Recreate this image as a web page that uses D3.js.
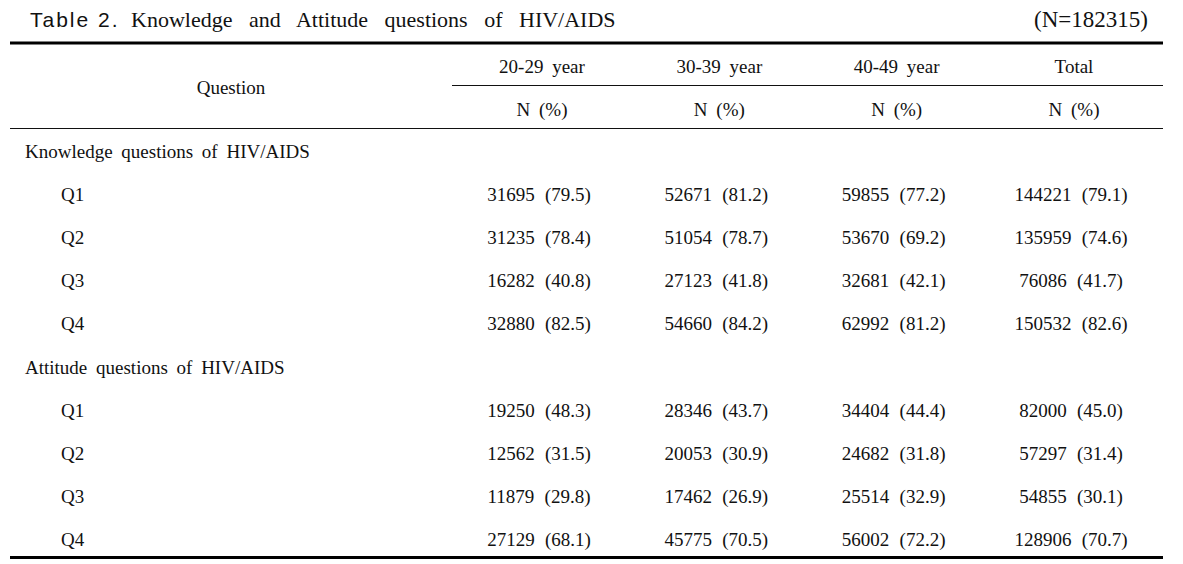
<!DOCTYPE html>
<html><head><meta charset="utf-8">
<script src="https://cdn.jsdelivr.net/npm/d3@7"></script>
<style>
html,body{margin:0;padding:0;background:#fff;}
svg text{font-family:"Liberation Serif","Times New Roman",serif;fill:#111;}
</style></head>
<body><svg id="c" width="1183" height="564"></svg>
<script>
const titleLabel = "Table 2.";
const titleText = "Knowledge and Attitude questions of HIV/AIDS";
const sampleNote = "(N=182315)";
const columns = ["20-29 year", "30-39 year", "40-49 year", "Total"];
const subHeader = "N (%)";
const sections = ["Knowledge questions of HIV/AIDS", "Attitude questions of HIV/AIDS"];
const questions = ["Q1", "Q2", "Q3", "Q4"];
const knowledgeN = [[31695, 52671, 59855, 144221],[31235, 51054, 53670, 135959],[16282, 27123, 32681, 76086],[32880, 54660, 62992, 150532]];
const knowledgePct = [["79.5","81.2","77.2","79.1"],["78.4","78.7","69.2","74.6"],["40.8","41.8","42.1","41.7"],["82.5","84.2","81.2","82.6"]];
const attitudeN = [[19250, 28346, 34404, 82000],[12562, 20053, 24682, 57297],[11879, 17462, 25514, 54855],[27129, 45775, 56002, 128906]];
const attitudePct = [["48.3","43.7","44.4","45.0"],["31.5","30.9","31.8","31.4"],["29.8","26.9","32.9","30.1"],["68.1","70.5","72.2","70.7"]];

const svg = d3.select("#c");
const L = 10, R = 1163;
const fs = 19;

const rows = [];
[[knowledgeN, knowledgePct],[attitudeN, attitudePct]].forEach((s, si) => {
  rows.push({type:"section", label: sections[si]});
  questions.forEach((q, qi) => rows.push({type:"q", label:q, n:s[0][qi], p:s[1][qi]}));
});

const y = d3.scalePoint().domain(d3.range(rows.length)).range([158, 546]);
const x = d3.scalePoint().domain(columns).range([539, 1071]);

// title
svg.append("text").attr("x", 30).attr("y", 27)
  .style("font-family","'Liberation Sans',Arial,sans-serif").style("font-size","21px").style("letter-spacing","2px")
  .text(titleLabel);
svg.append("text").attr("x", 131).attr("y", 27).style("font-size", "22px").style("word-spacing","11px").text(titleText);
svg.append("text").attr("x", 1148).attr("y", 27).attr("text-anchor","end").style("font-size","23px").text(sampleNote);

// rules
svg.append("line").attr("x1",L).attr("x2",R).attr("y1",43).attr("y2",43).attr("stroke","#000").attr("stroke-width",3);
svg.append("line").attr("x1",452).attr("x2",R).attr("y1",85.5).attr("y2",85.5).attr("stroke","#111").attr("stroke-width",1.2);
svg.append("line").attr("x1",L).attr("x2",R).attr("y1",128.5).attr("y2",128.5).attr("stroke","#111").attr("stroke-width",1.2);
svg.append("line").attr("x1",L).attr("x2",R).attr("y1",557.5).attr("y2",557.5).attr("stroke","#000").attr("stroke-width",3);

// header
svg.append("text").attr("x",231).attr("y",94).attr("text-anchor","middle").style("font-size",fs+"px").text("Question");
svg.selectAll("text.ch").data(columns).join("text").attr("class","ch")
  .attr("x", d => x(d)+3).attr("y", 73).attr("text-anchor","middle").style("font-size",fs+"px").style("word-spacing","4px").text(d=>d);
svg.selectAll("text.sh").data(columns).join("text").attr("class","sh")
  .attr("x", d => x(d)+3).attr("y", 116).attr("text-anchor","middle").style("font-size",fs+"px").style("word-spacing","4px").text(subHeader);

// body
const g = svg.selectAll("g.row").data(rows).join("g").attr("class","row")
  .attr("transform",(d,i)=>`translate(0,${y(i)})`);
g.append("text").attr("x", d => d.type==="section" ? 25 : 61).style("font-size",fs+"px").style("word-spacing","4px").text(d=>d.label);
g.filter(d=>d.type==="q").selectAll("text.v").data(d => columns.map((c,ci)=>({c, n:d.n[ci], p:d.p[ci]})))
  .join("text").attr("class","v").attr("x", d => x(d.c)).attr("text-anchor","middle")
  .style("font-size",fs+"px").style("word-spacing","5.5px").text(d => `${d.n} (${d.p})`);
</script></body></html>
